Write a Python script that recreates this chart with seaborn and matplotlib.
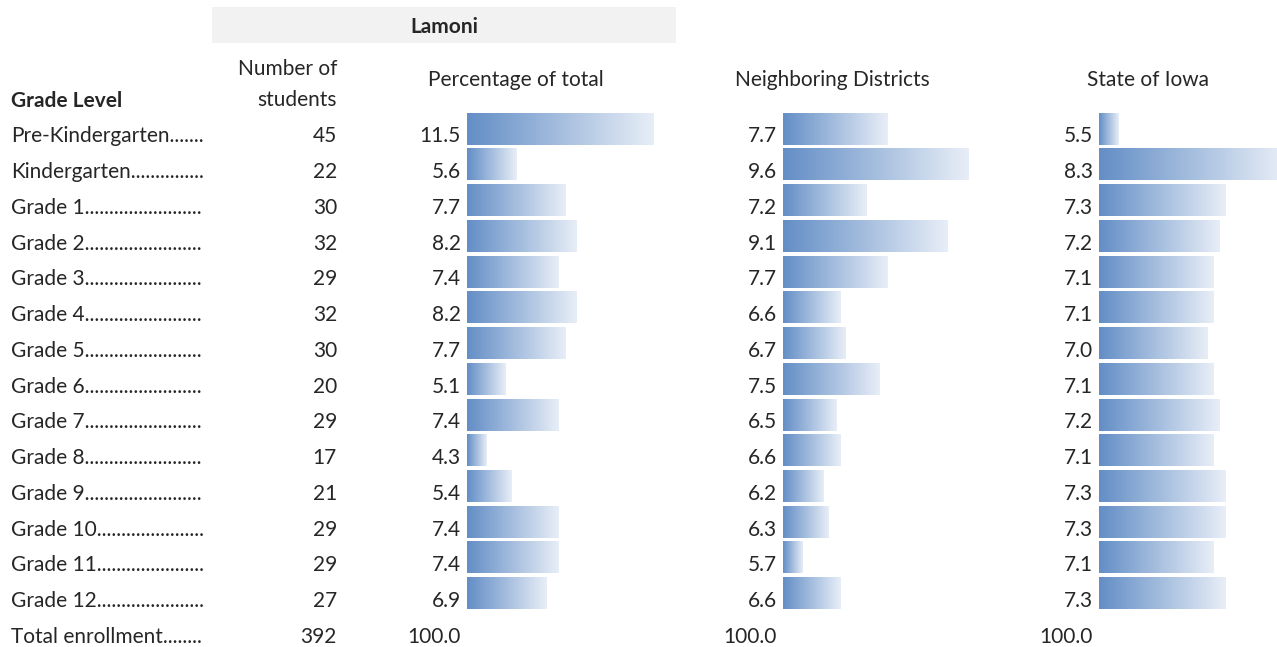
import numpy as np
import pandas as pd
import matplotlib
matplotlib.use("Agg")
import matplotlib.pyplot as plt
from matplotlib.colors import LinearSegmentedColormap
import seaborn as sns

grades = ["Pre-Kindergarten", "Kindergarten", "Grade 1", "Grade 2", "Grade 3", "Grade 4",
          "Grade 5", "Grade 6", "Grade 7", "Grade 8", "Grade 9", "Grade 10", "Grade 11", "Grade 12"]
students = [45, 22, 30, 32, 29, 32, 30, 20, 29, 17, 21, 29, 29, 27]
lamoni_pct = [11.5, 5.6, 7.7, 8.2, 7.4, 8.2, 7.7, 5.1, 7.4, 4.3, 5.4, 7.4, 7.4, 6.9]
neighbor_pct = [7.7, 9.6, 7.2, 9.1, 7.7, 6.6, 6.7, 7.5, 6.5, 6.6, 6.2, 6.3, 5.7, 6.6]
iowa_pct = [5.5, 8.3, 7.3, 7.2, 7.1, 7.1, 7.0, 7.1, 7.2, 7.1, 7.3, 7.3, 7.1, 7.3]
total_students = 392
total_pct = "100.0"

df = pd.DataFrame({"grade": grades, "students": students, "lamoni": lamoni_pct,
                   "neighbor": neighbor_pct, "iowa": iowa_pct})

sns.set_theme(style="white")
plt.rcParams["font.family"] = ["Lato", "DejaVu Sans"]

W, H = 1277, 647
fig = plt.figure(figsize=(W / 100, H / 100), dpi=100)

row0 = 129.2      # centre of first bar row (px)
step = 35.73      # row spacing (px)
base0 = 142.5     # text baseline of first row (px)
fs = 15

cmap = LinearSegmentedColormap.from_list("databar", ["#638ec6", "#e8eef7"])
grad = np.linspace(0, 1, 256).reshape(1, -1)


def fy(px):
    return 1 - px / H


def data_bars(col, x_start):
    # excel style data bars: shortest bar ~19px, longest ~186px
    vals = df[col]
    vmin, vmax = vals.min(), vals.max()
    min_px, max_px = 19.5, 186.0
    scale = (max_px - min_px) / (vmax - vmin)
    left = vmin - min_px / scale
    top = row0 - step / 2
    bottom = row0 + (len(df) - 1) * step + step / 2
    ax = fig.add_axes([x_start / W, fy(bottom), max_px / W, (bottom - top) / H])
    sns.barplot(data=df, x=col, y="grade", ax=ax, orient="h", width=0.868,
                color="#638ec6", saturation=1)
    for p in ax.patches:
        x1 = p.get_x() + p.get_width()
        y0 = p.get_y()
        h = p.get_height()
        p.set_facecolor("none")
        p.set_edgecolor("none")
        ax.imshow(grad, extent=[left, x1, y0 + h, y0], aspect="auto", cmap=cmap,
                  interpolation="bilinear", zorder=2)
    ax.set_xlim(left, left + max_px / scale)
    ax.set_ylim(len(df) - 0.5, -0.5)
    ax.axis("off")


data_bars("lamoni", 467)
data_bars("neighbor", 783)
data_bars("iowa", 1099)

# text layer in pixel coordinates
tx = fig.add_axes([0, 0, 1, 1], zorder=5)
tx.set_xlim(0, W)
tx.set_ylim(H, 0)
tx.axis("off")
tx.patch.set_alpha(0)

tx.add_patch(plt.Rectangle((212, 7), 464, 36, facecolor="#f2f2f2", edgecolor="none"))
tx.text(444, 27, "Lamoni", ha="center", va="center", fontsize=fs, fontweight="bold")
tx.text(11, 107, "Grade Level", ha="left", va="baseline", fontsize=fs, fontweight="bold")
tx.text(337, 75, "Number of", ha="right", va="baseline", fontsize=fs)
tx.text(337, 106, "students", ha="right", va="baseline", fontsize=fs)
tx.text(516, 86, "Percentage of total", ha="center", va="baseline", fontsize=fs)
tx.text(832, 86, "Neighboring Districts", ha="center", va="baseline", fontsize=fs)
tx.text(1148, 86, "State of Iowa", ha="center", va="baseline", fontsize=fs)

renderer = fig.canvas.get_renderer()


def leader(label, yb, right=206):
    # add dots until the label fills the first column
    t = tx.text(11, yb, label, ha="left", va="baseline", fontsize=fs)
    s = label
    while True:
        t.set_text(s + ".")
        if t.get_window_extent(renderer).x1 > right:
            t.set_text(s)
            break
        s += "."


for i, r in df.iterrows():
    yb = base0 + i * step
    leader(r["grade"], yb)
    tx.text(337, yb, str(r["students"]), ha="right", va="baseline", fontsize=fs)
    tx.text(461, yb, f"{r['lamoni']:.1f}", ha="right", va="baseline", fontsize=fs)
    tx.text(777, yb, f"{r['neighbor']:.1f}", ha="right", va="baseline", fontsize=fs)
    tx.text(1093, yb, f"{r['iowa']:.1f}", ha="right", va="baseline", fontsize=fs)

yb = base0 + len(df) * step
leader("Total enrollment", yb)
tx.text(337, yb, str(total_students), ha="right", va="baseline", fontsize=fs)
for xr in (461, 777, 1093):
    tx.text(xr, yb, total_pct, ha="right", va="baseline", fontsize=fs)

fig.savefig("out.png", dpi=100, facecolor="white")
